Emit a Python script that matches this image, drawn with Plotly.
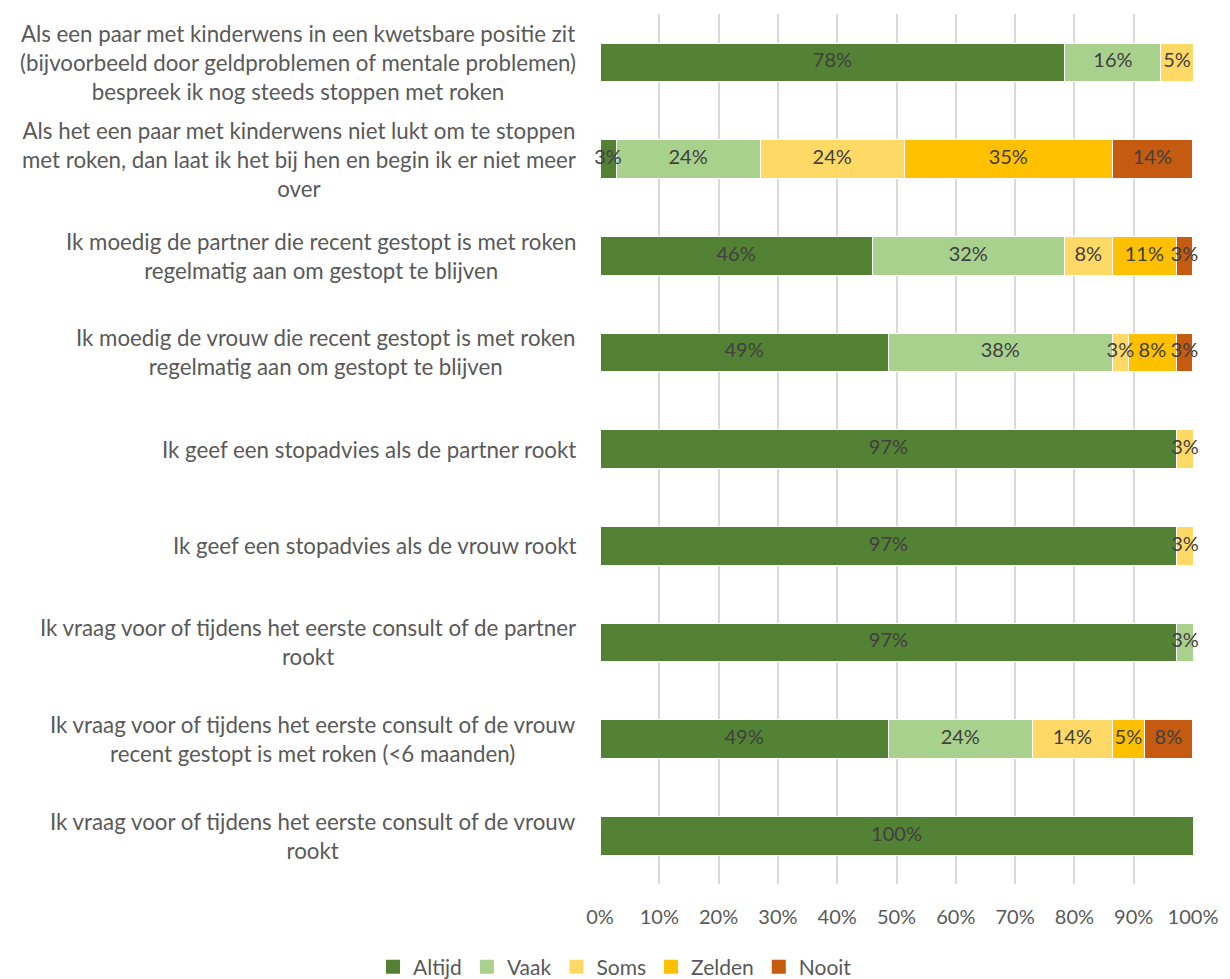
import plotly.graph_objects as go

# Statements, top to bottom as shown
categories = [
    "Als een paar met kinderwens in een kwetsbare positie zit<br>(bijvoorbeeld door geldproblemen of mentale problemen)<br>bespreek ik nog steeds stoppen met roken",
    "Als het een paar met kinderwens niet lukt om te stoppen<br>met roken, dan laat ik het bij hen en begin ik er niet meer<br>over",
    "Ik moedig de partner die recent gestopt is met roken<br>regelmatig aan om gestopt te blijven",
    "Ik moedig de vrouw die recent gestopt is met roken<br>regelmatig aan om gestopt te blijven",
    "Ik geef een stopadvies als de partner rookt",
    "Ik geef een stopadvies als de vrouw rookt",
    "Ik vraag voor of tijdens het eerste consult of de partner<br>rookt",
    "Ik vraag voor of tijdens het eerste consult of de vrouw<br>recent gestopt is met roken (<6 maanden)",
    "Ik vraag voor of tijdens het eerste consult of de vrouw<br>rookt",
]

# Share of respondents (%) per answer
altijd = [78.4, 2.7, 45.9, 48.6, 97.3, 97.3, 97.3, 48.6, 100.0]
vaak = [16.2, 24.3, 32.4, 37.8, 0, 0, 2.7, 24.3, 0]
soms = [5.4, 24.3, 8.1, 2.7, 2.7, 2.7, 0, 13.5, 0]
zelden = [0, 35.1, 10.8, 8.1, 0, 0, 0, 5.4, 0]
nooit = [0, 13.5, 2.7, 2.7, 0, 0, 0, 8.1, 0]

series = [
    ("Altijd", altijd, "#548235"),
    ("Vaak", vaak, "#A9D18E"),
    ("Soms", soms, "#FFD966"),
    ("Zelden", zelden, "#FFC000"),
    ("Nooit", nooit, "#C55A11"),
]

x_ticks = list(range(0, 101, 10))
x_ticklabels = [f"{t}%" for t in x_ticks]

FONT = "Lato, Carlito, Calibri, sans-serif"

fig = go.Figure()

# Stacked segments
for name, vals, color in series:
    fig.add_trace(go.Bar(
        y=categories,
        x=vals,
        name=name,
        orientation="h",
        marker=dict(color=color, line=dict(color="white", width=1)),
        width=0.4,
        hoverinfo="x+name",
        showlegend=False,
        legendgroup=name,
    ))

# Value labels centred on each segment, drawn above all bars so that
# labels of narrow segments can spill over their neighbours
left = [0.0] * len(categories)
for name, vals, color in series:
    xs, ys, ts = [], [], []
    for i, v in enumerate(vals):
        if v > 0:
            xs.append(left[i] + v / 2)
            ys.append(categories[i])
            ts.append(f"{v:.0f}%")
        left[i] += v
    fig.add_trace(go.Scatter(
        x=xs, y=ys, text=ts,
        mode="text",
        textposition="middle center",
        textfont=dict(color="#404040", size=20, family=FONT),
        showlegend=False,
        hoverinfo="skip",
        cliponaxis=False,
    ))

# Legend entries with square swatches
for name, vals, color in series:
    fig.add_trace(go.Scatter(
        x=[None], y=[None],
        mode="markers",
        name=name,
        legendgroup=name,
        marker=dict(symbol="square", size=14, color=color),
        showlegend=True,
    ))

# Category labels: centred lines, block right-aligned against the plot
for cat in categories:
    fig.add_annotation(
        x=0, xref="paper", xshift=-22, xanchor="right",
        y=cat, yref="y", yanchor="middle",
        text=cat, align="center", showarrow=False,
        font=dict(size=22.3, color="#595959", family=FONT),
    )

fig.update_layout(
    barmode="stack",
    width=1230,
    height=979,
    margin=dict(l=600, r=35, t=14, b=95),
    paper_bgcolor="white",
    plot_bgcolor="white",
    font=dict(family=FONT, color="#595959", size=20),
    bargap=0.6,
    legend=dict(
        orientation="h",
        x=0.5, xanchor="center", xref="container",
        y=12 / 979, yanchor="middle", yref="container",
        font=dict(size=21, color="#595959", family=FONT),
        itemwidth=30,
        tracegroupgap=0,
        traceorder="normal",
    ),
    showlegend=True,
)

fig.update_xaxes(
    range=[0, 100],
    tickvals=x_ticks,
    ticktext=x_ticklabels,
    showgrid=True,
    gridcolor="#D9D9D9",
    gridwidth=1.5,
    zeroline=False,
    showline=False,
    ticks="",
    ticklabelstandoff=19,
    tickfont=dict(size=20, color="#595959", family=FONT),
)
fig.update_yaxes(
    categoryorder="array",
    categoryarray=categories[::-1],
    autorange=False,
    range=[-0.5, len(categories) - 0.5],
    showgrid=False,
    ticks="",
    showticklabels=False,
)

fig.write_html("out.html")
